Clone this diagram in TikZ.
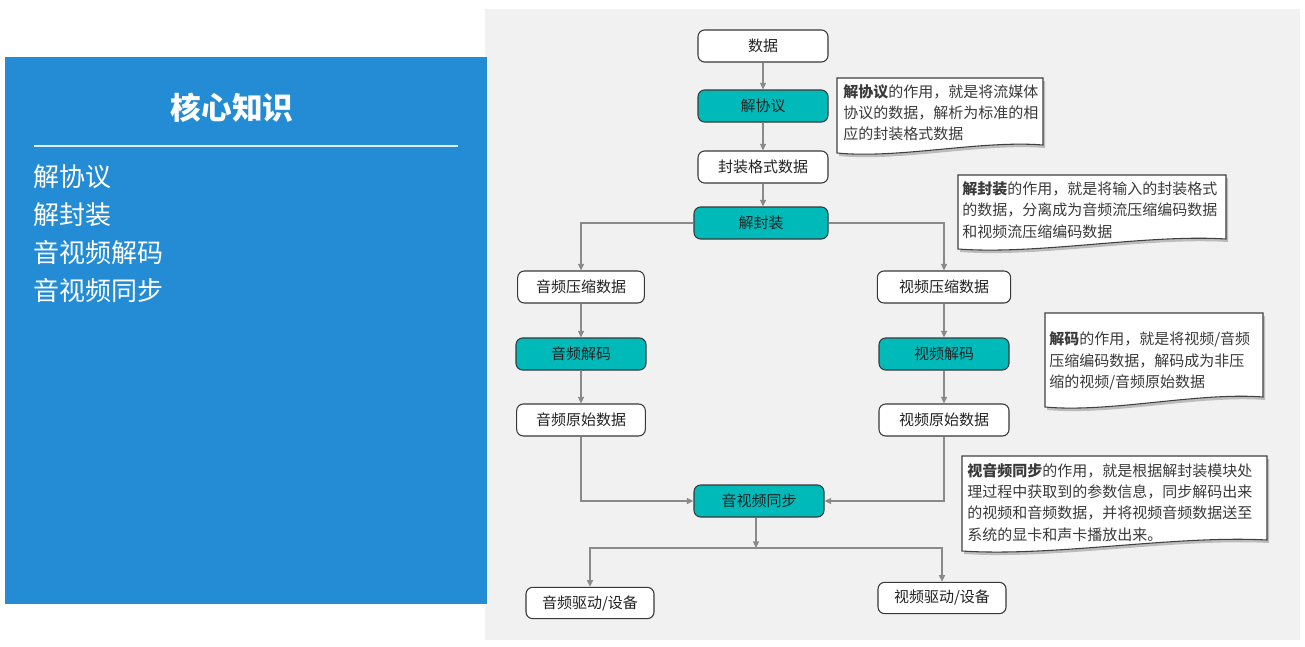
\documentclass[tikz,border=0pt]{standalone}
\usepackage{fontspec}
\setmainfont{Noto Sans CJK SC}
\usetikzlibrary{arrows.meta}
\definecolor{bluepanel}{HTML}{238CD5}
\definecolor{bggray}{HTML}{F1F1F1}
\definecolor{tealfill}{HTML}{00BABA}
\definecolor{linegray}{HTML}{8A8A8A}
\definecolor{txt}{HTML}{222222}
\definecolor{notetxt}{HTML}{3A3A3A}
\newcommand\docbox[5]{%
  \fill[black,opacity=0.22,shift={(2,3)}] (#1,#2) -- (#3,#2) -- (#3,#4)
    .. controls ({#3-0.3*(#3-#1)},{#4-5}) and ({#1+0.3*(#3-#1)},{#5+6}) .. (#1,#5) -- cycle;
  \filldraw[fill=white,draw=black!75,line width=0.8pt] (#1,#2) -- (#3,#2) -- (#3,#4)
    .. controls ({#3-0.3*(#3-#1)},{#4-5}) and ({#1+0.3*(#3-#1)},{#5+6}) .. (#1,#5) -- cycle;
}
\begin{document}
\begin{tikzpicture}[x=0.75pt,y=-0.75pt,
  box/.style={draw=black!78,line width=0.8pt,rounded corners=5pt,fill=white,
    minimum width=97.5pt,minimum height=24pt,inner sep=0pt,text=txt,
    font=\fontsize{11.25}{13}\selectfont},
  tbox/.style={box,fill=tealfill},
  conn/.style={draw=linegray,line width=1pt,-{Triangle[length=5pt,width=4.5pt]}},
  note/.style={anchor=west,align=left,inner sep=0pt,text=notetxt,
    font=\fontsize{11.25}{15.9}\selectfont},
  item/.style={anchor=west,inner sep=0pt,text=white,font=\fontsize{19.5}{22}\selectfont}]
\useasboundingbox (0,0) rectangle (1305,646);
\fill[white] (0,0) rectangle (1305,646);
% gray area
\fill[bggray] (485,9) rectangle (1300,640);
% left panel
\fill[bluepanel] (5,57) rectangle (487,604);
\node[inner sep=0pt,text=white,font=\fontsize{23}{26}\selectfont\bfseries] (title) at (232,108) {核心知识};
\draw[white!85!bluepanel,line width=0.8pt] (34,146) -- (458,146);
\node[item] (i1) at (33,177) {解协议};
\node[item] (i2) at (33,215) {解封装};
\node[item] (i3) at (33,253) {音视频解码};
\node[item] (i4) at (33,291) {音视频同步};
% nodes
\node[box] (data) at (763,46) {数据};
\node[tbox] (jxy) at (763,106) {解协议};
\node[box] (fz) at (763,167) {封装格式数据};
\node[tbox,minimum width=100.5pt] (jfz) at (761,223) {解封装};
\node[box,minimum width=95pt] (ays) at (581,287) {音频压缩数据};
\node[tbox] (ajm) at (581,354) {音频解码};
\node[box,minimum width=96.5pt] (araw) at (581,420) {音频原始数据};
\node[box,minimum width=100pt] (vys) at (944,287) {视频压缩数据};
\node[tbox] (vjm) at (944,354) {视频解码};
\node[box] (vraw) at (944,420) {视频原始数据};
\node[tbox] (sync) at (759,501) {音视频同步};
\node[box,minimum width=96pt,minimum height=23.5pt] (adev) at (590,603) {音频驱动/设备};
\node[box,minimum width=96pt,minimum height=23.5pt] (vdev) at (942,598) {视频驱动/设备};
% connectors
\draw[conn] (data) -- (jxy);
\draw[conn] (jxy) -- (fz);
\draw[conn] (fz.south) -- (fz.south |- jfz.north);
\draw[conn] (jfz.west) -| (ays.north);
\draw[conn] (jfz.east) -| (vys.north);
\draw[conn] (ays) -- (ajm);
\draw[conn] (ajm) -- (araw);
\draw[conn] (vys) -- (vjm);
\draw[conn] (vjm) -- (vraw);
\draw[conn] (araw.south) |- (sync.west);
\draw[conn] (vraw.south) |- (sync.east);
\coordinate (br) at (756,548);
\draw[conn] (sync.south -| br) -- (br);
\draw[conn] (br) -| (adev.north);
\draw[conn] (br) -| (vdev.north);
% notes
\docbox{837}{78}{1043}{145}{153}
\node[note] (n1) at (843,113) {{\bfseries 解协议}的作用，就是将流媒体\\协议的数据，解析为标准的相\\应的封装格式数据};
\docbox{958}{175}{1226}{239}{249}
\node[note] (n2) at (962,210) {{\bfseries 解封装}的作用，就是将输入的封装格式\\的数据，分离成为音频流压缩编码数据\\和视频流压缩编码数据};
\docbox{1045}{313}{1263}{397}{407}
\node[note] (n3) at (1049,361) {{\bfseries 解码}的作用，就是将视频/音频\\压缩编码数据，解码成为非压\\缩的视频/音频原始数据};
\docbox{962}{456}{1267}{540}{551}
\node[note] (n4) at (967,502.5) {{\bfseries 视音频同步}的作用，就是根据解封装模块处\\理过程中获取到的参数信息，同步解码出来\\的视频和音频数据，并将视频音频数据送至\\系统的显卡和声卡播放出来。};
\end{tikzpicture}
\end{document}
